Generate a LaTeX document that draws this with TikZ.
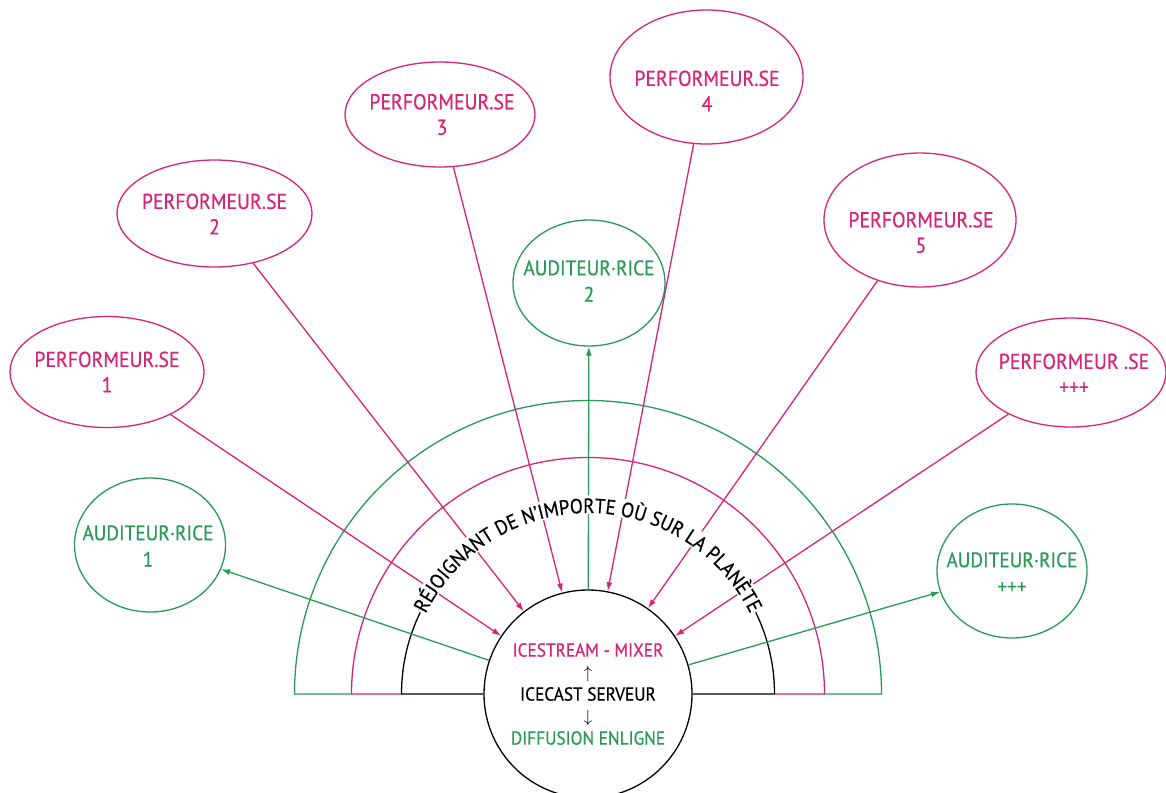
\documentclass[tikz,border=0pt]{standalone}
\usepackage{fontspec}
\setmainfont{PT Sans}[FakeStretch=0.92, FakeBold=0.5]
\usepackage{xcolor}
\usepackage{tikz}
\usetikzlibrary{arrows.meta,positioning,shapes.geometric,calc,decorations.text}

\definecolor{perfpink}{RGB}{214,36,120}
\definecolor{audgreen}{RGB}{40,154,86}

\begin{document}
\begin{tikzpicture}[
  x=1pt, y=-1pt,
  perf/.style={draw=perfpink, line width=1.3pt, ellipse, inner sep=0pt},
  perftxt/.style={text=perfpink, align=center, font=\fontsize{21.5}{25.5}\selectfont},
  aud/.style={draw=audgreen, line width=1.3pt, ellipse, inner sep=0pt},
  audtxt/.style={text=audgreen, align=center, font=\fontsize{21}{26.5}\selectfont},
  server/.style={draw, circle, line width=1.3pt, fill=white, minimum size=208pt,
                 inner sep=0pt, align=center, font=\fontsize{18.8}{22}\selectfont},
  pinkarrow/.style={draw=perfpink, line width=1.3pt, -{Latex[length=9pt,width=6pt]}},
  greenarrow/.style={draw=audgreen, line width=1.3pt, -{Latex[length=9pt,width=6pt]}}
]
  \useasboundingbox (0,0) rectangle (1166,792);
  \coordinate (ctr) at (588,694);

  % --- half rings ---------------------------------------------------
  \draw[audgreen, line width=1.3pt] ($(ctr)+(-236.5,0)$) -- ++(-57,0)
      arc[start angle=180, end angle=0, radius=293.5pt] -- ++(-57,0);
  \draw[perfpink, line width=1.3pt] ($(ctr)+(-186.5,0)$) -- ++(-50,0)
      arc[start angle=180, end angle=0, radius=236.5pt] -- ++(-50,0);

  % --- server in the middle -----------------------------------------
  \node[server] (srv) at (ctr)
    {\textcolor{perfpink}{ICESTREAM - MIXER}\\$\uparrow$\\ICECAST SERVEUR\\$\downarrow$\\\textcolor{audgreen}{DIFFUSION ENLIGNE}};
  \draw[line width=1.3pt] (srv.west) -- ($(ctr)+(-186.5,0)$)
      arc[start angle=180, end angle=0, radius=186.5pt] -- (srv.east);

  % --- performers ---------------------------------------------------
  \node[perf, minimum width=194pt, minimum height=111pt] (p1) at (107,372) {};
  \node[perftxt] (p1t) at (107,372) {PERFORMEUR.SE\\1};
  \node[perf, minimum width=195pt, minimum height=107pt] (p2) at (214.5,213.5) {};
  \node[perftxt] (p2t) at (214.5,214) {PERFORMEUR.SE\\2};
  \node[perf, minimum width=190pt, minimum height=105pt] (p3) at (440,114.5) {};
  \node[perftxt] (p3t) at (442,114.5) {PERFORMEUR.SE\\3};
  \node[perf, minimum width=193pt, minimum height=134pt] (p4) at (706.5,77) {};
  \node[perftxt] (p4t) at (707,91) {PERFORMEUR.SE\\4};
  \node[perf, minimum width=192pt, minimum height=134pt] (p5) at (920,220) {};
  \node[perftxt] (p5t) at (921,232.5) {PERFORMEUR.SE\\5};
  \node[perf, minimum width=190pt, minimum height=109pt] (pmore) at (1071,372.5) {};
  \node[perftxt] (pmoret) at (1074,374) {PERFORMEUR .SE\\+++};

  % --- listeners ----------------------------------------------------
  \node[aud, minimum width=151pt, minimum height=134pt] (a1) at (150,545) {};
  \node[audtxt] (a1t) at (148,546) {AUDITEUR·RICE\\1};
  \node[aud, minimum width=152pt, minimum height=126pt] (a2) at (589,283) {};
  \node[audtxt] (a2t) at (589,281) {AUDITEUR·RICE\\2};
  \node[aud, minimum width=150pt, minimum height=134pt] (amore) at (1012,571) {};
  \node[audtxt] (amoret) at (1012,573) {AUDITEUR·RICE\\+++};

  % --- arrows -------------------------------------------------------
  \draw[pinkarrow] (p1) -- (srv);
  \draw[pinkarrow] (p2) -- (srv);
  \draw[pinkarrow] (p3) -- (srv);
  \draw[pinkarrow] (p4) -- (srv);
  \draw[pinkarrow] (p5) -- (srv);
  \draw[pinkarrow] (pmore) -- (srv);

  \draw[greenarrow] (srv) -- (a1);
  \draw[greenarrow] (srv) -- (a2);
  \draw[greenarrow] (srv) -- (amore);

  % --- curved caption -----------------------------------------------
  \draw[white, line width=19pt] ($(ctr)+(154:189pt)$)
      arc[start angle=154, end angle=26, radius=189pt];
  \path[decorate, decoration={text along path, text align=center,
      text={|\fontsize{20.5}{20.5}\selectfont|RÉJOIGNANT DE N’IMPORTE OÙ SUR LA PLANÈTE}}]
      ($(ctr)+(156:181pt)$) arc[start angle=156, end angle=24, radius=181pt];
\end{tikzpicture}
\end{document}
